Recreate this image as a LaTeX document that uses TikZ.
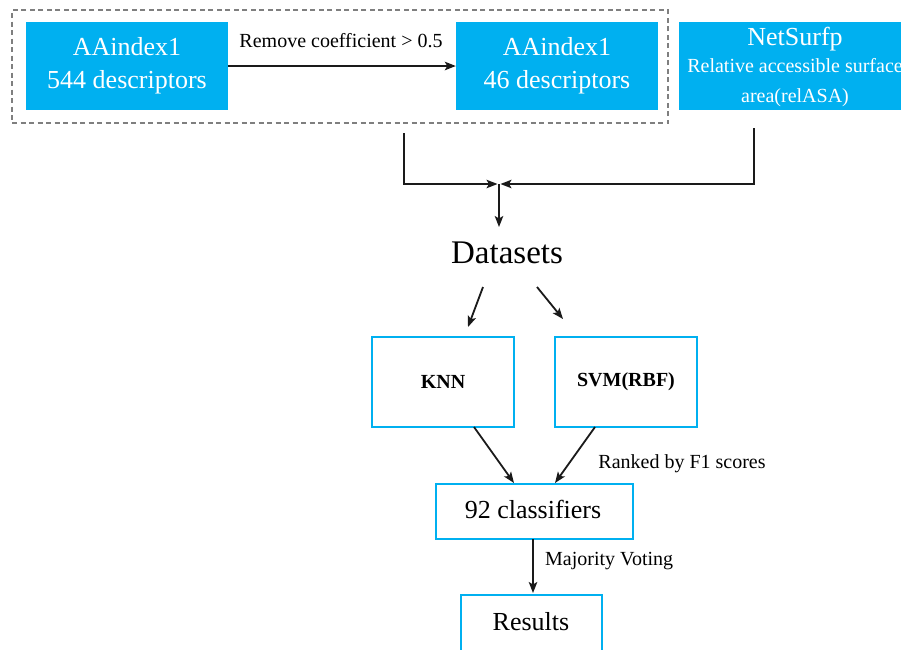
\documentclass[tikz,border=0pt]{standalone}
\usepackage{fontspec}
\setmainfont{Liberation Serif}
\usetikzlibrary{arrows.meta}
\definecolor{cyanfill}{HTML}{00B0F0}
\definecolor{dashgray}{HTML}{7F7F7F}
\definecolor{lineblack}{HTML}{1A1A1A}
\begin{document}
\begin{tikzpicture}[x=1pt,y=-1pt,
  fillbox/.style={draw=none, fill=cyanfill, inner sep=0pt, text=white, align=center},
  linebox/.style={draw=cyanfill, line width=1.8pt, fill=white, inner sep=0pt, align=center},
  thinbox/.style={draw=cyanfill, line width=1.3pt, fill=white, inner sep=0pt, align=center},
  dashbox/.style={draw=dashgray, line width=1.2pt, dash pattern=on 5pt off 3.5pt, inner sep=0pt},
  conn/.style={line width=1.8pt, draw=lineblack},
  arr/.style={conn, -{Stealth[length=11pt,width=8.5pt,inset=2.5pt]}},
  txt/.style={inner sep=0pt, anchor=base},
  fbig/.style={font=\fontsize{26}{33}\selectfont},
  fmid/.style={font=\fontsize{20}{24}\selectfont},
  fbold/.style={font=\fontsize{20}{24}\selectfont\bfseries},
  fhuge/.style={font=\fontsize{33}{38}\selectfont}
]
\clip (0,0) rectangle (901,649);
\fill[white] (0,0) rectangle (901,649);

% top row
\node[dashbox, minimum width=656pt, minimum height=113pt] (grp) at (340,66.5) {};
\node[fillbox, fbig, minimum width=202pt, minimum height=88pt] (aa1) at (127,66) {AAindex1\\544 descriptors};
\node[fillbox, fbig, minimum width=202pt, minimum height=88pt] (aa2) at (557,66) {AAindex1\\46 descriptors};
\node[fillbox, minimum width=232pt, minimum height=88pt] (ns) at (795,66) {};
\node[txt, fbig, text=white] (ns1) at (795,45) {NetSurfp};
\node[txt, fmid, text=white] (ns2) at (795,72) {Relative accessible surface};
\node[txt, fmid, text=white] (ns3) at (795,102) {area(relASA)};

\draw[arr] (aa1) -- (aa2);
\node[txt, fmid] (rem) at (341,47) {Remove coefficient > 0.5};

% merge connectors
\coordinate (jl) at (404,133);
\coordinate (jr) at (754,128);
\coordinate (jcl) at (497.5,184);
\coordinate (jcr) at (500.5,184);
\coordinate (jc) at (499,184);
\coordinate (jd) at (499,227);
\draw[arr] (jl) |- (jcl);
\draw[arr] (jr) |- (jcr);
\draw[arr] (jc) -- (jd);

% datasets
\node[txt, fhuge] (ds) at (507,263) {Datasets};
\coordinate (dl1) at (483,287);
\coordinate (dl2) at (468,327);
\coordinate (dr1) at (537,287);
\coordinate (dr2) at (563,319);
\draw[arr] (dl1) -- (dl2);
\draw[arr] (dr1) -- (dr2);

% classifiers
\node[linebox, fbold, minimum width=142pt, minimum height=90pt] (knn) at (443,382) {KNN};
\node[linebox, fbold, minimum width=142pt, minimum height=90pt] (svm) at (626,382) {SVM(RBF)};
\coordinate (k1) at (474,427);
\coordinate (k2) at (514,483);
\coordinate (s1) at (595,427);
\coordinate (s2) at (555,483);
\draw[arr] (k1) -- (k2);
\draw[arr] (s1) -- (s2);
\node[txt, fmid] (rank) at (682,468) {Ranked by F1 scores};

\node[thinbox, minimum width=197pt, minimum height=55pt] (cls) at (534.5,511.5) {};
\node[txt, fbig] (clst) at (533,518) {92 classifiers};
\coordinate (c1) at (533,539);
\coordinate (c2) at (533,593);
\draw[arr] (c1) -- (c2);
\node[txt, fmid, anchor=base west] (mv) at (545,565) {Majority Voting};

\node[thinbox, minimum width=141pt, minimum height=66pt] (res) at (531.5,628) {};
\node[txt, fbig] (rest) at (531,630) {Results};
\end{tikzpicture}
\end{document}
